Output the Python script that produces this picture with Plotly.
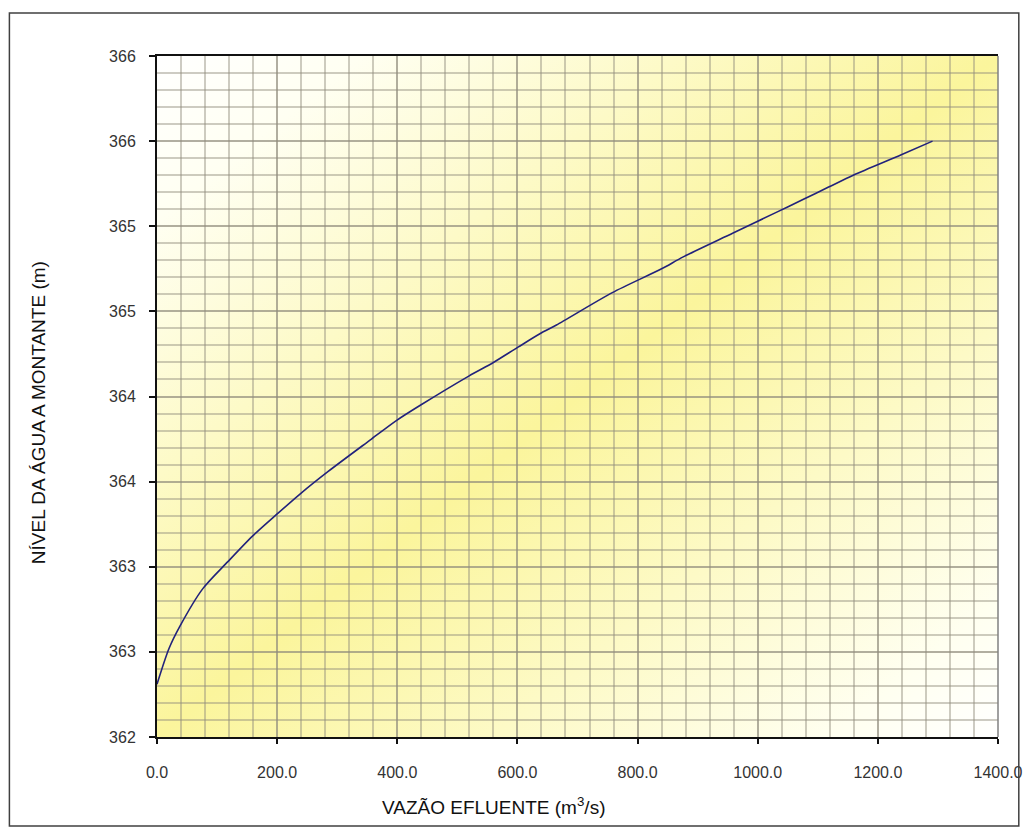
import base64
import plotly.graph_objects as go

# ---- data ----
vazao = [0, 20, 38, 76, 118, 159, 200, 239, 285, 357, 399, 439, 519, 560, 601, 643,
         665, 758, 840, 876, 959, 1030, 1077, 1118, 1159, 1239, 1291]
nivel = [362.31, 362.52, 362.65, 362.87, 363.03, 363.18, 363.31, 363.43, 363.56, 363.75,
         363.86, 363.95, 364.12, 364.20, 364.29, 364.38, 364.42, 364.61, 364.75, 364.82,
         364.96, 365.08, 365.16, 365.23, 365.30, 365.42, 365.50]

y_tickvals = [362, 362.5, 363, 363.5, 364, 364.5, 365, 365.5, 366]
y_ticktext = ["362", "363", "363", "364", "364", "365", "365", "366", "366"]
x_tickvals = [0, 200, 400, 600, 800, 1000, 1200, 1400]
x_ticktext = ["0.0", "200.0", "400.0", "600.0", "800.0", "1000.0", "1200.0", "1400.0"]

x_title = "VAZÃO EFLUENTE (m<sup>3</sup>/s)"
y_title = "NÍVEL DA ÁGUA A MONTANTE (m)"

# ---- layout geometry (pixels) ----
W, H = 1035, 834
L, R, T, B = 157, 1006, 56, 737
pw, ph = R - L, B - T


def px_x(p):
    return (p - L) / pw


def px_y(p):
    return (B - p) / ph


svg = (
    '<svg xmlns="http://www.w3.org/2000/svg" width="100" height="100" '
    'viewBox="0 0 100 100" preserveAspectRatio="none">'
    '<defs><linearGradient id="g" x1="0" y1="0" x2="1" y2="1">'
    '<stop offset="0" stop-color="#ffffff"/>'
    '<stop offset="0.12" stop-color="#fffff2"/>'
    '<stop offset="0.5" stop-color="#fbf59c"/>'
    '<stop offset="0.9" stop-color="#fffff0"/>'
    '<stop offset="1" stop-color="#ffffff"/>'
    '</linearGradient></defs>'
    '<rect x="0" y="0" width="100" height="100" fill="url(#g)"/></svg>'
)
svg_uri = "data:image/svg+xml;base64," + base64.b64encode(svg.encode()).decode()

fig = go.Figure()
fig.add_trace(go.Scatter(
    x=vazao, y=nivel, mode="lines",
    line=dict(color="#22227c", width=1.6, shape="spline", smoothing=0.8),
    showlegend=False, hoverinfo="x+y",
))

grid_color = "rgba(145,140,125,0.45)"
tick_font = dict(family="Liberation Sans, Arial, sans-serif", size=16, color="#333333")

fig.update_layout(
    width=W, height=H,
    margin=dict(l=L, r=W - R, t=T, b=H - B),
    paper_bgcolor="white",
    plot_bgcolor="rgba(0,0,0,0)",
    font=dict(family="Liberation Sans, Arial, sans-serif"),
    xaxis=dict(
        range=[0, 1400], tickmode="array", tickvals=x_tickvals, ticktext=x_ticktext,
        showgrid=True, gridcolor=grid_color, gridwidth=1.5,
        minor=dict(dtick=40, tick0=0, showgrid=True, gridcolor=grid_color, gridwidth=1.5, ticks=""),
        showline=True, linecolor="#111111", linewidth=2, mirror=True,
        ticks="outside", ticklen=5, tickcolor="#111111", tickwidth=1.5,
        tickfont=tick_font, ticklabelstandoff=15, zeroline=False,
    ),
    yaxis=dict(
        range=[362, 366], tickmode="array", tickvals=y_tickvals, ticktext=y_ticktext,
        showgrid=True, gridcolor=grid_color, gridwidth=1.5,
        minor=dict(dtick=0.1, tick0=362, showgrid=True, gridcolor=grid_color, gridwidth=1.5, ticks=""),
        showline=True, linecolor="#111111", linewidth=2, mirror=False,
        ticks="outside", ticklen=6, tickcolor="#111111", tickwidth=1.5,
        tickfont=tick_font, ticklabelstandoff=10, zeroline=False,
    ),
    images=[dict(
        source=svg_uri, xref="paper", yref="paper", x=0, y=1, sizex=1, sizey=1,
        xanchor="left", yanchor="top", sizing="stretch", layer="below",
    )],
    shapes=[
        dict(type="line", xref="paper", yref="paper", x0=1, x1=1, y0=0, y1=1,
             line=dict(color="#808080", width=1.5)),
        dict(type="rect", xref="paper", yref="paper",
             x0=px_x(8), x1=px_x(1027), y0=px_y(826), y1=px_y(13),
             line=dict(color="#404040", width=1.5), fillcolor="rgba(0,0,0,0)"),
    ],
    annotations=[
        dict(text=x_title, xref="paper", yref="paper", x=px_x(497), y=px_y(806),
             showarrow=False, font=dict(size=19, color="#111111"),
             xanchor="center", yanchor="middle"),
        dict(text=y_title, xref="paper", yref="paper", x=px_x(37), y=px_y(413),
             showarrow=False, textangle=-90, font=dict(size=19, color="#111111"),
             xanchor="center", yanchor="middle"),
    ],
)

fig.write_html("out.html", config={"displayModeBar": False},
               post_script="document.body.style.margin='0';")
